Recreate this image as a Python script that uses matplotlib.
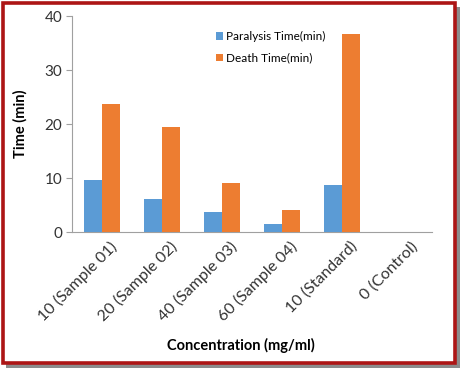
import matplotlib
matplotlib.use("Agg")
import matplotlib.pyplot as plt
import matplotlib.transforms as mtransforms
import numpy as np
from matplotlib.patches import Rectangle

categories = ["10 (Sample 01)", "20 (Sample 02)", "40 (Sample 03)", "60 (Sample 04)", "10 (Standard)", "0 (Control)"]
paralysis = [9.6, 6.1, 3.7, 1.5, 8.7, 0.0]
death = [23.7, 19.4, 9.1, 4.1, 36.7, 0.0]
series_names = ["Paralysis Time(min)", "Death Time(min)"]

plt.rcParams['font.family'] = ['Lato', 'DejaVu Sans']

fig = plt.figure(figsize=(4.63, 3.69), dpi=100)
# shadow and red frame
fig.patches.append(Rectangle((6/463, 1 - 368/369), 454/463, 361/369, transform=fig.transFigure,
                             facecolor='#8c8c8c', edgecolor='none', zorder=-10))
fig.patches.append(Rectangle((3/463, 1 - 363/369), 452/463, 360/369, transform=fig.transFigure,
                             facecolor='white', edgecolor='#ad1515', linewidth=2.6, zorder=-9))

ax = fig.add_axes([72/463, 1 - 232/369, 360/463, 216/369])
ax.set_zorder(5)
x = np.arange(len(categories))
w = 0.3
ax.bar(x - w/2, paralysis, w, color='#5b9bd5', label=series_names[0], zorder=3)
ax.bar(x + w/2, death, w, color='#ed7d31', label=series_names[1], zorder=3)

ax.set_xlim(-0.5, len(categories) - 0.5)
ax.set_ylim(0, 40)
ax.set_yticks([0, 10, 20, 30, 40])
ax.tick_params(axis='y', labelsize=11, length=4, colors='#a0a0a0', labelcolor='#333333', pad=3)
ax.set_xticks(x)
ax.set_xticklabels(categories, rotation=45, ha='right', rotation_mode='anchor', fontsize=11.5, color='#333333')
ax.tick_params(axis='x', length=0, pad=5)
offset = mtransforms.ScaledTranslation(8/100, 0, fig.dpi_scale_trans)
for lbl in ax.get_xticklabels():
    lbl.set_transform(lbl.get_transform() + offset)
for s in ['top', 'right']:
    ax.spines[s].set_visible(False)
ax.spines['left'].set_color('#a0a0a0')
ax.spines['bottom'].set_color('#a0a0a0')
ax.patch.set_alpha(0)

ax.set_ylabel("Time (min)", fontsize=10.5, fontweight='bold', labelpad=12)
fig.text(241/463, 1 - 345/369, "Concentration (mg/ml)", ha='center', va='center', fontsize=10.5, fontweight='bold')

ax.legend(loc='upper left', bbox_to_anchor=(0.37, 0.98), frameon=False, fontsize=8.5,
          handlelength=0.6, handleheight=0.6, handletextpad=0.3, labelspacing=0.9)

fig.savefig("out.png", dpi=100)
